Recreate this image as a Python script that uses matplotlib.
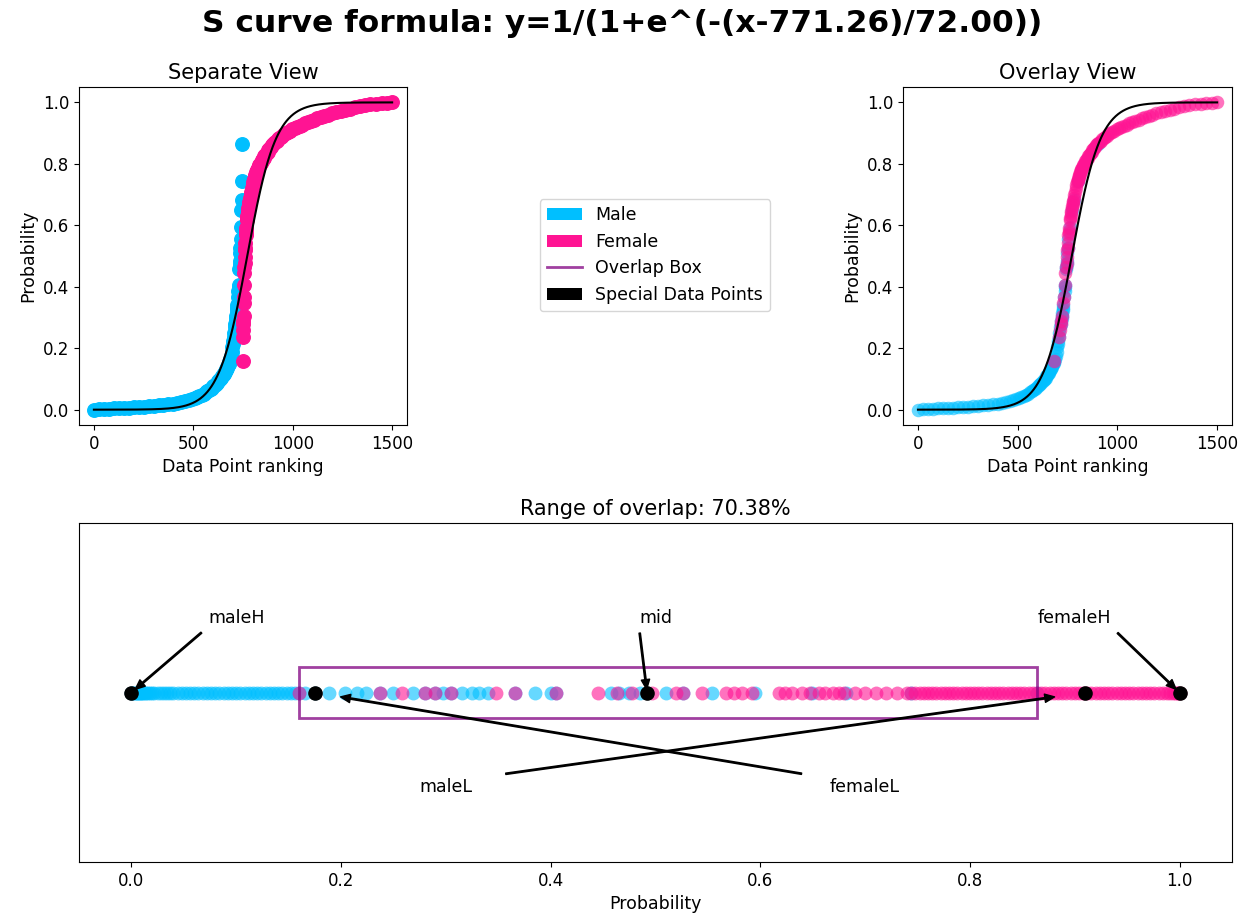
import numpy as np
import matplotlib
matplotlib.use("Agg")
import matplotlib.pyplot as plt
from matplotlib.patches import Patch, Rectangle
from matplotlib.lines import Line2D

# fitted logistic curve parameters
s_mid = 771.26
s_scale = 72.00

# male points: rank within the group and predicted probability
male_rank = [0, 25, 50, 75, 100, 125, 150, 175, 200, 225,
             250, 275, 300, 325, 350, 375, 400, 420, 440, 460,
             477, 492, 506, 519, 531, 542, 552, 562, 571, 579,
             587, 594, 601, 607, 613, 619, 625, 630, 635, 640,
             644, 648, 652, 656, 659, 662, 665, 668, 671, 674,
             677, 680, 682, 684, 687, 690, 694, 697, 700, 702,
             705, 707, 710, 712, 714, 715, 717, 718, 720, 721,
             722, 725, 727, 728, 729, 732, 733, 734, 735, 736,
             737, 738, 740, 742, 743, 744, 745]
male_prob = [0.000, 0.001, 0.002, 0.003, 0.004, 0.005, 0.006, 0.007, 0.008, 0.009,
             0.010, 0.011, 0.013, 0.014, 0.016, 0.018, 0.020, 0.022, 0.025, 0.028,
             0.031, 0.034, 0.037, 0.040, 0.044, 0.048, 0.052, 0.056, 0.060, 0.064,
             0.068, 0.072, 0.076, 0.080, 0.084, 0.088, 0.092, 0.096, 0.100, 0.104,
             0.108, 0.112, 0.116, 0.120, 0.124, 0.128, 0.132, 0.136, 0.140, 0.144,
             0.148, 0.152, 0.156, 0.160, 0.166, 0.175, 0.189, 0.204, 0.215, 0.224,
             0.237, 0.250, 0.269, 0.280, 0.290, 0.297, 0.305, 0.315, 0.325, 0.332,
             0.340, 0.366, 0.385, 0.400, 0.405, 0.458, 0.465, 0.475, 0.485, 0.510,
             0.526, 0.554, 0.595, 0.649, 0.682, 0.744, 0.8638]
# rank of the same male points once both groups are sorted together
male_rank_all = [0, 25, 50, 75, 100, 125, 150, 175, 200, 225,
                 250, 275, 300, 325, 350, 375, 400, 420, 440, 460,
                 477, 492, 506, 519, 531, 542, 552, 562, 571, 579,
                 587, 594, 601, 607, 613, 619, 625, 630, 635, 640,
                 644, 648, 652, 656, 659, 662, 665, 668, 671, 674,
                 677, 680, 682, 684, 688, 691, 695, 698, 701, 703,
                 706, 709, 713, 715, 718, 720, 722, 724, 726, 727,
                 728, 732, 735, 736, 737, 742, 744, 745, 747, 749,
                 751, 754, 761, 772, 781, 802, 905]

female_rank = [748, 750, 751, 752, 752, 753, 754, 754, 755, 756,
               757, 758, 759, 760, 761, 762, 763, 765, 766, 767,
               768, 771, 772, 774, 776, 777, 779, 780, 782, 784,
               785, 788, 791, 795, 798, 802, 804, 805, 807, 808,
               810, 812, 814, 816, 818, 820, 823, 826, 829, 832,
               836, 839, 843, 847, 850, 854, 858, 862, 866, 870,
               874, 878, 882, 887, 892, 897, 902, 907, 913, 919,
               926, 933, 940, 948, 957, 967, 977, 987, 998, 1010,
               1022, 1035, 1048, 1062, 1077, 1092, 1108, 1124, 1141, 1159,
               1178, 1198, 1219, 1241, 1264, 1288, 1313, 1337, 1362, 1390,
               1420, 1448, 1475, 1500]
female_prob = [0.160, 0.237, 0.258, 0.280, 0.290, 0.305, 0.348, 0.366, 0.405, 0.445,
               0.463, 0.478, 0.497, 0.520, 0.526, 0.544, 0.567, 0.575, 0.583, 0.592,
               0.618, 0.624, 0.630, 0.640, 0.647, 0.656, 0.662, 0.669, 0.675, 0.680,
               0.690, 0.700, 0.710, 0.720, 0.730, 0.740, 0.744, 0.748, 0.752, 0.756,
               0.760, 0.764, 0.768, 0.772, 0.776, 0.780, 0.784, 0.788, 0.792, 0.796,
               0.800, 0.804, 0.808, 0.812, 0.816, 0.820, 0.824, 0.828, 0.832, 0.836,
               0.840, 0.844, 0.848, 0.852, 0.856, 0.860, 0.864, 0.868, 0.872, 0.876,
               0.880, 0.884, 0.888, 0.892, 0.896, 0.900, 0.904, 0.908, 0.912, 0.916,
               0.920, 0.924, 0.928, 0.932, 0.936, 0.940, 0.944, 0.948, 0.952, 0.956,
               0.960, 0.964, 0.968, 0.972, 0.976, 0.980, 0.984, 0.988, 0.991, 0.994,
               0.996, 0.998, 0.999, 1.000]
female_rank_all = [683, 705, 711, 715, 717, 721, 729, 730, 736, 738,
                   742, 745, 747, 749, 751, 752, 754, 756, 757, 758,
                   761, 764, 765, 767, 769, 772, 774, 775, 777, 779,
                   781, 784, 787, 791, 794, 798, 800, 802, 804, 805,
                   807, 809, 811, 813, 815, 817, 820, 823, 826, 829,
                   833, 836, 840, 844, 847, 851, 855, 859, 863, 867,
                   871, 875, 879, 884, 889, 894, 900, 905, 911, 917,
                   924, 931, 938, 946, 955, 965, 975, 985, 996, 1008,
                   1020, 1033, 1046, 1060, 1075, 1090, 1106, 1122, 1139, 1157,
                   1176, 1196, 1217, 1239, 1262, 1286, 1311, 1335, 1360, 1388,
                   1418, 1446, 1473, 1498]

# special points on the probability line
special_names = ["maleH", "femaleL", "mid", "maleL", "femaleH"]
special_prob = [0.0, 0.175, 0.492, 0.91, 1.0]
special_text_x = [0.1, 0.7, 0.5, 0.3, 0.9]
special_text_y = [0.44, -0.56, 0.44, -0.56, 0.44]

box_lo = min(female_prob)
box_hi = max(male_prob)

c_male = "deepskyblue"
c_female = "deeppink"
c_box = "purple"

plt.rcParams["font.size"] = 12.5
plt.rcParams["xtick.labelsize"] = 12
plt.rcParams["ytick.labelsize"] = 12

fig = plt.figure(figsize=(12.44, 9.21), dpi=100)
ax_sep = fig.add_axes([0.0635, 0.5385, 0.2637, 0.367])
ax_ovl = fig.add_axes([0.7259, 0.5385, 0.2645, 0.367])
ax_line = fig.add_axes([0.0635, 0.064, 0.9268, 0.368])

fig.suptitle(f"S curve formula: y=1/(1+e^(-(x-{s_mid:.2f})/{s_scale:.2f}))",
             fontsize=22.5, fontweight="bold", y=0.99)

xs = np.linspace(0, 1500, 600)
ys = 1 / (1 + np.exp(-(xs - s_mid) / s_scale))

ax_sep.scatter(male_rank, male_prob, s=95, color=c_male)
ax_sep.scatter(female_rank, female_prob, s=95, color=c_female)
ax_sep.plot(xs, ys, color="black", lw=1.5)
ax_sep.set_title("Separate View", fontsize=15)

ax_ovl.scatter(male_rank_all, male_prob, s=95, color=c_male, alpha=0.6, linewidths=0)
ax_ovl.scatter(female_rank_all, female_prob, s=95, color=c_female, alpha=0.6, linewidths=0)
ax_ovl.plot(xs, ys, color="black", lw=1.5)
ax_ovl.set_title("Overlay View", fontsize=15)

for ax in (ax_sep, ax_ovl):
    ax.set_xlim(-75, 1575)
    ax.set_ylim(-0.05, 1.05)
    ax.set_xticks([0, 500, 1000, 1500])
    ax.set_xlabel("Data Point ranking")
    ax.set_ylabel("Probability")

# probability line
ax_line.scatter(male_prob, np.zeros(len(male_prob)), s=100, color=c_male, alpha=0.6, linewidths=0)
ax_line.scatter(female_prob, np.zeros(len(female_prob)), s=100, color=c_female, alpha=0.6, linewidths=0)
ax_line.add_patch(Rectangle((box_lo, -0.15), box_hi - box_lo, 0.3, fill=False,
                            edgecolor=c_box, alpha=0.75, lw=2))
ax_line.scatter(special_prob, np.zeros(len(special_prob)), s=90, color="black", zorder=5)
for name, px, tx, ty in zip(special_names, special_prob, special_text_x, special_text_y):
    ax_line.annotate(name, xy=(px, 0), xytext=(tx, ty), ha="center", va="center",
                     arrowprops=dict(facecolor="black", shrink=0.05, width=1,
                                     headwidth=6, headlength=7))
ax_line.set_xlim(-0.05, 1.05)
ax_line.set_ylim(-1, 1)
ax_line.set_yticks([])
ax_line.set_xlabel("Probability")
ax_line.set_title(f"Range of overlap: {(box_hi - box_lo) * 100:.2f}%", fontsize=15)

handles = [Patch(facecolor=c_male, label="Male"),
           Patch(facecolor=c_female, label="Female"),
           Line2D([0], [0], color=c_box, alpha=0.75, lw=2, label="Overlap Box"),
           Patch(facecolor="black", label="Special Data Points")]
fig.legend(handles=handles, loc="center", bbox_to_anchor=(0.5265, 0.7231))

fig.savefig("out.png", dpi=100)
